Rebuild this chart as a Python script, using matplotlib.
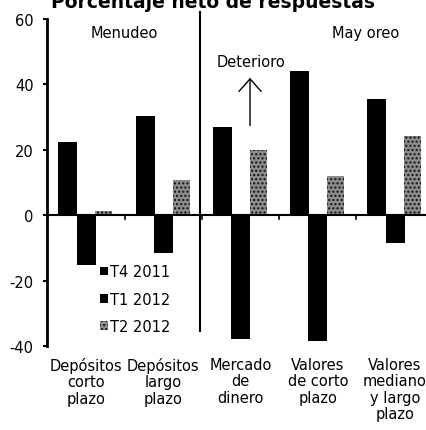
import matplotlib
matplotlib.use("Agg")
import matplotlib.pyplot as plt
import numpy as np

categories = ["Depósitos\ncorto\nplazo", "Depósitos\nlargo\nplazo", "Mercado\nde\ndinero",
              "Valores\nde corto\nplazo", "Valores\nmediano\ny largo\nplazo"]
series_names = ["T4 2011", "T1 2012", "T2 2012"]
t4_2011 = [22.3, 30.2, 27.0, 44.0, 35.5]
t1_2012 = [-15.2, -11.6, -37.8, -38.5, -8.5]
t2_2012 = [1.2, 10.7, 20.0, 11.9, 24.3]
yticks = [60, 40, 20, 0, -20, -40]

plt.rcParams['font.family'] = ['DejaVu Sans']
plt.rcParams['axes.unicode_minus'] = False
plt.rcParams['hatch.color'] = '#111111'
plt.rcParams['hatch.linewidth'] = 1.0

fig = plt.figure(figsize=(4.26, 4.31), dpi=100)
ax = fig.add_axes([0.1113, 0.1949, 0.9067, 0.7587])

x = np.arange(len(categories))
ax.bar(x - 0.235, t4_2011, width=0.245, color='black', label=series_names[0])
ax.bar(x + 0.0, t1_2012, width=0.245, color='black', label=series_names[1])
ax.bar(x + 0.23, t2_2012, width=0.22, facecolor='#8c8c8c', edgecolor='#111111',
       linewidth=0, hatch='....', label=series_names[2])

ax.set_xlim(-0.5, 4.5)
ax.set_ylim(-40, 60)
ax.set_yticks(yticks)
ax.set_yticklabels([str(v) for v in yticks], fontsize=10.5)
ax.tick_params(axis='y', length=3, width=1.5, pad=7)

for s in ['top', 'right', 'bottom']:
    ax.spines[s].set_visible(False)
ax.spines['left'].set_linewidth(2)
ax.axhline(0, color='black', linewidth=1.5)

# boundary ticks on zero line
ax.set_xticks([])
for b in [0.5, 1.5, 2.5, 3.5]:
    ax.plot([b, b], [0, -1.3], color='black', linewidth=1.2, clip_on=False)

# divider line between Menudeo and Mayoreo
ax.plot([1.47, 1.47], [62.0, -35.5], color='black', linewidth=1.5, clip_on=False)

# category labels below
for i, c in enumerate(categories):
    ax.text(i, -43.3, c, ha='center', va='top', fontsize=10.5, linespacing=1.12)

ax.text(0.49, 56, "Menudeo", ha='center', va='center', fontsize=10.5)
ax.text(3.62, 56, "May oreo", ha='center', va='center', fontsize=10.5)
ax.text(2.14, 47, "Deterioro", ha='center', va='center', fontsize=10.5)
ax.annotate("", xy=(2.123, 42.0), xytext=(2.123, 27.4),
            arrowprops=dict(arrowstyle='->,head_length=0.45,head_width=0.4',
                            color='black', lw=1.0, mutation_scale=20,
                            shrinkA=0, shrinkB=0))

leg = ax.legend(loc='upper left', bbox_to_anchor=(0.121, 0.268), frameon=False,
                fontsize=10.5, handlelength=0.55, handleheight=0.55, handletextpad=0.15,
                labelspacing=0.85, borderaxespad=0)

fig.text(0.5, 0.982, "Porcentaje neto de respuestas", ha='center', va='baseline',
         fontsize=13.5, fontweight='bold')

fig.savefig("out.png", dpi=100)
